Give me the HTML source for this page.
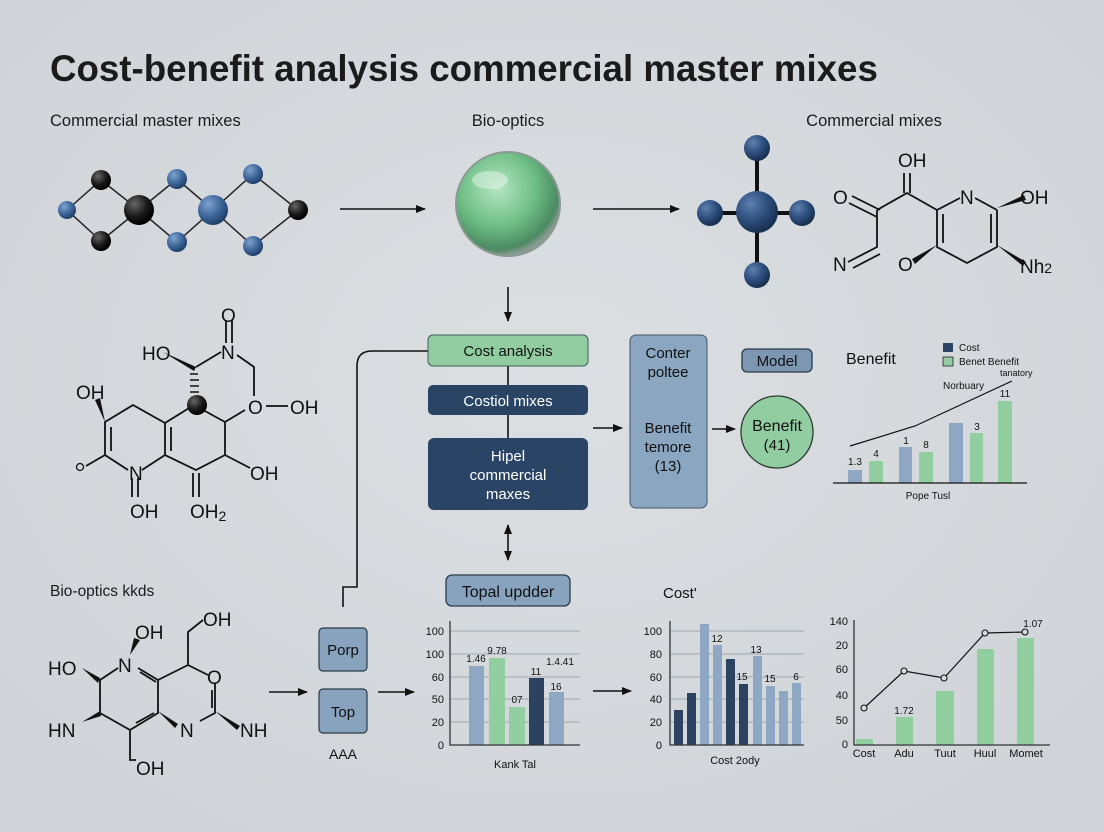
<!DOCTYPE html>
<html><head><meta charset="utf-8"><style>
html,body{margin:0;padding:0;background:#d6dadd;}
svg{display:block;font-family:"Liberation Sans",sans-serif;}
</style></head><body>
<svg width="1104" height="832" viewBox="0 0 1104 832" xmlns="http://www.w3.org/2000/svg">
<defs>
<radialGradient id="bg" cx="50%" cy="45%" r="70%"><stop offset="0" stop-color="#dcdfe2"/><stop offset="1" stop-color="#cfd3d7"/></radialGradient>
<radialGradient id="sph" cx="40%" cy="35%" r="65%"><stop offset="0" stop-color="#b6e6c3"/><stop offset="0.55" stop-color="#6fbf86"/><stop offset="0.9" stop-color="#4c8a62"/><stop offset="1" stop-color="#8a9a92"/></radialGradient>
<radialGradient id="bb" cx="35%" cy="30%" r="70%"><stop offset="0" stop-color="#7fa3cf"/><stop offset="0.6" stop-color="#3d6698"/><stop offset="1" stop-color="#22406a"/></radialGradient>
<radialGradient id="nb" cx="35%" cy="30%" r="70%"><stop offset="0" stop-color="#5c80b0"/><stop offset="0.6" stop-color="#2c4c7a"/><stop offset="1" stop-color="#17304f"/></radialGradient>
<radialGradient id="kb" cx="35%" cy="30%" r="70%"><stop offset="0" stop-color="#666"/><stop offset="0.6" stop-color="#1a1a1a"/><stop offset="1" stop-color="#000"/></radialGradient>
<marker id="ar" markerWidth="10" markerHeight="10" refX="9" refY="5" orient="auto" markerUnits="userSpaceOnUse"><path d="M0,1 L10,5 L0,9 z" fill="#111"/></marker>
<marker id="arS" markerWidth="10" markerHeight="10" refX="1" refY="5" orient="auto" markerUnits="userSpaceOnUse"><path d="M10,1 L0,5 L10,9 z" fill="#111"/></marker>
</defs>
<rect width="1104" height="832" fill="url(#bg)"/>
<text x="50" y="81" font-size="36.7" font-weight="bold" fill="#1b1b1b">Cost-benefit analysis commercial master mixes</text>
<g font-size="16.5" fill="#1b1b1b">
<text x="50" y="126">Commercial master mixes</text>
<text x="508" y="126" text-anchor="middle">Bio-optics</text>
<text x="874" y="126" text-anchor="middle">Commercial mixes</text>
</g>

<!-- top-left molecule -->
<g stroke="#222" stroke-width="1.5" fill="none">
<path d="M67,210 L101,180 L139,210 L101,241 Z M139,210 L177,179 L213,210 L177,242 Z M213,210 L253,174 L298,210 L253,246 Z"/>
</g>
<circle cx="67" cy="210" r="9" fill="url(#bb)"/>
<circle cx="177" cy="179" r="10" fill="url(#bb)"/>
<circle cx="177" cy="242" r="10" fill="url(#bb)"/>
<circle cx="253" cy="174" r="10" fill="url(#bb)"/>
<circle cx="253" cy="246" r="10" fill="url(#bb)"/>
<circle cx="213" cy="210" r="15" fill="url(#bb)"/>
<circle cx="101" cy="180" r="10" fill="url(#kb)"/>
<circle cx="101" cy="241" r="10" fill="url(#kb)"/>
<circle cx="139" cy="210" r="15" fill="url(#kb)"/>
<circle cx="298" cy="210" r="10" fill="url(#kb)"/>

<g stroke="#111" stroke-width="1.6">
<line x1="340" y1="209" x2="425" y2="209" marker-end="url(#ar)"/>
<line x1="593" y1="209" x2="679" y2="209" marker-end="url(#ar)"/>
<line x1="508" y1="287" x2="508" y2="321" marker-end="url(#ar)"/>
</g>
<circle cx="508" cy="204" r="52" fill="url(#sph)" stroke="#8b9a94" stroke-width="2"/>
<ellipse cx="490" cy="180" rx="18" ry="9" fill="#e6f6ea" opacity="0.5"/>

<!-- star molecule -->
<g stroke="#111" stroke-width="4"><line x1="757" y1="148" x2="757" y2="275"/><line x1="710" y1="213" x2="802" y2="213"/></g>
<circle cx="757" cy="148" r="13" fill="url(#nb)"/>
<circle cx="710" cy="213" r="13" fill="url(#nb)"/>
<circle cx="802" cy="213" r="13" fill="url(#nb)"/>
<circle cx="757" cy="275" r="13" fill="url(#nb)"/>
<circle cx="757" cy="212" r="21" fill="url(#nb)"/>

<!-- right molecule -->
<g stroke="#111" stroke-width="1.8" fill="none">
<path d="M849,203 L877,217 M852,196 L880,210"/>
<path d="M877,210 L907,193 L937,210 L960,198 M975,198 L997,210 M997,210 L997,247 L967,263 L937,247 L937,210 M877,210 L877,247 L848,262 M880,254 L853,268"/>
<path d="M904,173 L904,193 M910,173 L910,193"/>
<path d="M943,214 L943,243 M991,214 L991,243"/>
</g>
<g fill="#111">
<path d="M997,208 L1024,195 L1026,200 Z"/>
<path d="M997,245 L1026,262 L1023,266 Z"/>
<path d="M937,245 L912,259 L915,264 Z"/>
</g>
<g font-size="19" fill="#111">
<text x="898" y="167">OH</text>
<text x="833" y="204">O</text>
<text x="960" y="204">N</text>
<text x="1020" y="204">OH</text>
<text x="833" y="271">N</text>
<text x="898" y="271">O</text>
<text x="1020" y="273">Nh<tspan font-size="14">2</tspan></text>
</g>

<!-- left molecule -->
<g stroke="#111" stroke-width="1.8" fill="none">
<path d="M196,367 L221,352 M237,355 L254,367 L254,396 M266,406 L288,406"/>
<path d="M226,320 L226,343 M232,320 L232,343"/>
<path d="M194,405 L225,422 L245,410 M225,422 L225,455 L196,470 L165,455 L165,423 L194,405"/>
<path d="M171,427 L171,451"/>
<path d="M225,455 L250,468"/>
<path d="M193,473 L193,497 M199,473 L199,497"/>
<path d="M165,423 L133,405 L105,422 L105,455 L128,470 M165,455 L142,470"/>
<path d="M111,427 L111,451"/>
<path d="M105,455 L86,466"/>
<path d="M132,478 L132,497 M138,478 L138,497"/>
</g>
<path d="M163,352 L196,367 L194,371 Z" fill="#111"/>
<path d="M105,422 L95,400 L100,398 Z" fill="#111"/>
<g stroke="#111" stroke-width="1.5"><line x1="190" y1="374" x2="198" y2="374"/><line x1="190" y1="380" x2="199" y2="380"/><line x1="190" y1="386" x2="199" y2="386"/><line x1="190" y1="392" x2="199" y2="392"/></g>
<circle cx="197" cy="405" r="10" fill="url(#kb)"/>
<g font-size="19" fill="#111">
<text x="142" y="360">HO</text>
<text x="221" y="359">N</text>
<text x="221" y="322">O</text>
<text x="76" y="399">OH</text>
<text x="248" y="414">O</text>
<text x="290" y="414">OH</text>
<text x="250" y="480">OH</text>
<text x="129" y="480">N</text>
<text x="130" y="518">OH</text>
<text x="190" y="518">OH<tspan font-size="14" dy="3">2</tspan></text>
</g>
<circle cx="80" cy="467" r="3.5" fill="none" stroke="#111" stroke-width="1.3"/>

<!-- bottom-left molecule -->
<text x="50" y="596" font-size="15.5" fill="#1b1b1b">Bio-optics kkds</text>
<g stroke="#111" stroke-width="1.8" fill="none">
<path d="M118,668 L100,680 L100,713 L130,730 L130,760 L136,760 M130,730 L158,713 L158,680 L138,668"/>
<path d="M136,723 L154,713 M140,672 L156,682"/>
<path d="M158,680 L188,665 L188,632 L203,620 M188,665 L208,675 M215,683 L215,713 L200,721"/>
<path d="M212,690 L212,708"/>
</g>
<g fill="#111">
<path d="M130,655 L134,638 L140,640 Z"/>
<path d="M82,668 L100,678 L98,683 Z"/>
<path d="M82,722 L100,711 L101,716 Z"/>
<path d="M158,711 L178,724 L175,728 Z"/>
<path d="M215,711 L240,726 L237,730 Z"/>
</g>
<g font-size="19" fill="#111">
<text x="135" y="639">OH</text>
<text x="203" y="626">OH</text>
<text x="118" y="672">N</text>
<text x="48" y="675">HO</text>
<text x="207" y="684">O</text>
<text x="48" y="737">HN</text>
<text x="180" y="737">N</text>
<text x="240" y="737">NH</text>
<text x="136" y="775">OH</text>
</g>

<!-- flow boxes -->
<path d="M428,351 L372,351 Q357,351 357,366 L357,587 L343,587 L343,607" fill="none" stroke="#111" stroke-width="1.6"/>
<line x1="508" y1="366" x2="508" y2="438" stroke="#111" stroke-width="1.6"/>
<rect x="428" y="335" width="160" height="31" rx="5" fill="#92cda2" stroke="#3f5f58" stroke-width="1"/>
<text x="508" y="356" font-size="15" text-anchor="middle" fill="#111">Cost analysis</text>
<rect x="428" y="385" width="160" height="30" rx="5" fill="#2a4466"/>
<text x="508" y="406" font-size="15" text-anchor="middle" fill="#fff">Costiol mixes</text>
<rect x="428" y="438" width="160" height="72" rx="6" fill="#2a4466"/>
<g font-size="15" text-anchor="middle" fill="#fff"><text x="508" y="461">Hipel</text><text x="508" y="480">commercial</text><text x="508" y="499">maxes</text></g>
<line x1="508" y1="525" x2="508" y2="560" stroke="#111" stroke-width="1.6" marker-end="url(#ar)" marker-start="url(#arS)"/>
<rect x="446" y="575" width="124" height="31" rx="6" fill="#87a3bd" stroke="#2a3a4a" stroke-width="1.3"/>
<text x="508" y="597" font-size="16" text-anchor="middle" fill="#111">Topal updder</text>

<line x1="593" y1="428" x2="622" y2="428" stroke="#111" stroke-width="1.6" marker-end="url(#ar)"/>
<rect x="630" y="335" width="77" height="173" rx="6" fill="#8ba6c0" stroke="#44576a" stroke-width="1"/>
<g font-size="15" text-anchor="middle" fill="#111"><text x="668" y="358">Conter</text><text x="668" y="377">poltee</text><text x="668" y="433">Benefit</text><text x="668" y="452">temore</text><text x="668" y="471">(13)</text></g>
<line x1="712" y1="429" x2="735" y2="429" stroke="#111" stroke-width="1.6" marker-end="url(#ar)"/>
<rect x="742" y="349" width="70" height="23" rx="5" fill="#7d97b2" stroke="#2a3a4a" stroke-width="1.3"/>
<text x="777" y="366" font-size="15" text-anchor="middle" fill="#111">Model</text>
<circle cx="777" cy="432" r="36" fill="#92cda2" stroke="#2a3a2e" stroke-width="1.3"/>
<text x="777" y="431" font-size="16" text-anchor="middle" fill="#111">Benefit</text>
<text x="777" y="450" font-size="15" text-anchor="middle" fill="#111">(41)</text>

<!-- benefit chart -->
<text x="846" y="364" font-size="16" fill="#111">Benefit</text>
<rect x="943" y="343" width="10" height="9" fill="#2a4466"/>
<rect x="943" y="357" width="10" height="9" fill="#92cda2" stroke="#222" stroke-width="0.8"/>
<g font-size="10" fill="#111"><text x="959" y="351">Cost</text><text x="959" y="365">Benet Benefit</text><text x="1000" y="376" font-size="9">tanatory</text><text x="943" y="389">Norbuary</text></g>
<g fill="#8ea7c2"><rect x="848" y="470" width="14" height="13"/><rect x="899" y="447" width="13" height="36"/><rect x="949" y="423" width="14" height="60"/></g>
<g fill="#92cfa0"><rect x="869" y="461" width="14" height="22"/><rect x="919" y="452" width="14" height="31"/><rect x="970" y="433" width="13" height="50"/><rect x="998" y="401" width="14" height="82"/></g>
<polyline points="850,446 915,426 1012,381" fill="none" stroke="#111" stroke-width="1.2"/>
<line x1="833" y1="483" x2="1027" y2="483" stroke="#111" stroke-width="1.2"/>
<g font-size="10" fill="#111" text-anchor="middle"><text x="855" y="465">1.3</text><text x="876" y="457">4</text><text x="906" y="444">1</text><text x="926" y="448">8</text><text x="977" y="430">3</text><text x="1005" y="397">11</text><text x="928" y="499">Pope Tusl</text></g>

<!-- porp/top -->
<rect x="319" y="628" width="48" height="43" rx="4" fill="#87a3bd" stroke="#2a3a4a" stroke-width="1.2"/>
<rect x="319" y="689" width="48" height="44" rx="4" fill="#87a3bd" stroke="#2a3a4a" stroke-width="1.2"/>
<text x="343" y="655" font-size="15" text-anchor="middle" fill="#111">Porp</text>
<text x="343" y="717" font-size="15" text-anchor="middle" fill="#111">Top</text>
<text x="343" y="759" font-size="14" text-anchor="middle" fill="#111">AAA</text>
<g stroke="#111" stroke-width="1.6">
<line x1="269" y1="692" x2="307" y2="692" marker-end="url(#ar)"/>
<line x1="378" y1="692" x2="414" y2="692" marker-end="url(#ar)"/>
<line x1="593" y1="691" x2="631" y2="691" marker-end="url(#ar)"/>
</g>

<!-- chart1 -->
<g stroke="#a0a6ad" stroke-width="1"><line x1="450" y1="631" x2="580" y2="631"/><line x1="450" y1="654" x2="580" y2="654"/><line x1="450" y1="677" x2="580" y2="677"/><line x1="450" y1="699" x2="580" y2="699"/><line x1="450" y1="722" x2="580" y2="722"/></g>
<g font-size="11" fill="#111" text-anchor="end"><text x="444" y="635">100</text><text x="444" y="658">100</text><text x="444" y="681">60</text><text x="444" y="703">50</text><text x="444" y="726">20</text><text x="444" y="749">0</text></g>
<rect x="469" y="666" width="15" height="79" fill="#8ea7c2"/>
<rect x="489" y="658" width="16" height="87" fill="#92cfa0"/>
<rect x="509" y="707" width="16" height="38" fill="#92cfa0"/>
<rect x="529" y="678" width="15" height="67" fill="#2b4261"/>
<rect x="549" y="692" width="15" height="53" fill="#8ea7c2"/>
<path d="M450,621 L450,745 L580,745" fill="none" stroke="#333" stroke-width="1.3"/>
<g font-size="10" fill="#111" text-anchor="middle"><text x="476" y="662">1.46</text><text x="497" y="654">9.78</text><text x="517" y="703">07</text><text x="536" y="675">11</text><text x="560" y="665">1.4.41</text><text x="556" y="690">16</text></g>
<text x="515" y="768" font-size="11" text-anchor="middle" fill="#111">Kank Tal</text>

<!-- chart2 -->
<text x="663" y="598" font-size="15" fill="#111">Cost'</text>
<g stroke="#a0a6ad" stroke-width="1"><line x1="670" y1="631" x2="804" y2="631"/><line x1="670" y1="654" x2="804" y2="654"/><line x1="670" y1="677" x2="804" y2="677"/><line x1="670" y1="699" x2="804" y2="699"/><line x1="670" y1="722" x2="804" y2="722"/></g>
<g font-size="11" fill="#111" text-anchor="end"><text x="662" y="635">100</text><text x="662" y="658">80</text><text x="662" y="681">60</text><text x="662" y="703">40</text><text x="662" y="726">20</text><text x="662" y="749">0</text></g>
<rect x="674" y="710" width="9" height="35" fill="#2b4261"/>
<rect x="687" y="693" width="9" height="52" fill="#2b4261"/>
<rect x="700" y="624" width="9" height="121" fill="#8ea7c2"/>
<rect x="713" y="645" width="9" height="100" fill="#8ea7c2"/>
<rect x="726" y="659" width="9" height="86" fill="#2b4261"/>
<rect x="739" y="684" width="9" height="61" fill="#2b4261"/>
<rect x="753" y="656" width="9" height="89" fill="#8ea7c2"/>
<rect x="766" y="686" width="9" height="59" fill="#8ea7c2"/>
<rect x="779" y="691" width="9" height="54" fill="#8ea7c2"/>
<rect x="792" y="683" width="9" height="62" fill="#8ea7c2"/>
<path d="M670,621 L670,745 L804,745" fill="none" stroke="#333" stroke-width="1.3"/>
<g font-size="10" fill="#111" text-anchor="middle"><text x="717" y="642">12</text><text x="756" y="653">13</text><text x="742" y="680">15</text><text x="770" y="682">15</text><text x="796" y="680">6</text></g>
<text x="735" y="764" font-size="11" text-anchor="middle" fill="#111">Cost 2ody</text>

<!-- chart3 -->
<g font-size="11" fill="#111" text-anchor="end"><text x="848" y="625">140</text><text x="848" y="649">20</text><text x="848" y="673">60</text><text x="848" y="699">40</text><text x="848" y="724">50</text><text x="848" y="748">0</text></g>
<rect x="856" y="739" width="17" height="6" fill="#92cfa0"/>
<rect x="896" y="717" width="17" height="28" fill="#92cfa0"/>
<rect x="936" y="691" width="18" height="54" fill="#92cfa0"/>
<rect x="977" y="649" width="17" height="96" fill="#92cfa0"/>
<rect x="1017" y="638" width="17" height="107" fill="#92cfa0"/>
<path d="M854,620 L854,745 L1050,745" fill="none" stroke="#333" stroke-width="1.3"/>
<polyline points="864,708 904,671 944,678 985,633 1025,632" fill="none" stroke="#111" stroke-width="1.2"/>
<g fill="#d6dadd" stroke="#111" stroke-width="1.1"><circle cx="864" cy="708" r="3"/><circle cx="904" cy="671" r="3"/><circle cx="944" cy="678" r="3"/><circle cx="985" cy="633" r="3"/><circle cx="1025" cy="632" r="3"/></g>
<g font-size="10" fill="#111" text-anchor="middle"><text x="904" y="714">1.72</text><text x="1033" y="627">1.07</text></g>
<g font-size="11" fill="#111" text-anchor="middle"><text x="864" y="757">Cost</text><text x="904" y="757">Adu</text><text x="945" y="757">Tuut</text><text x="985" y="757">Huul</text><text x="1026" y="757">Momet</text></g>
</svg>
</body></html>
